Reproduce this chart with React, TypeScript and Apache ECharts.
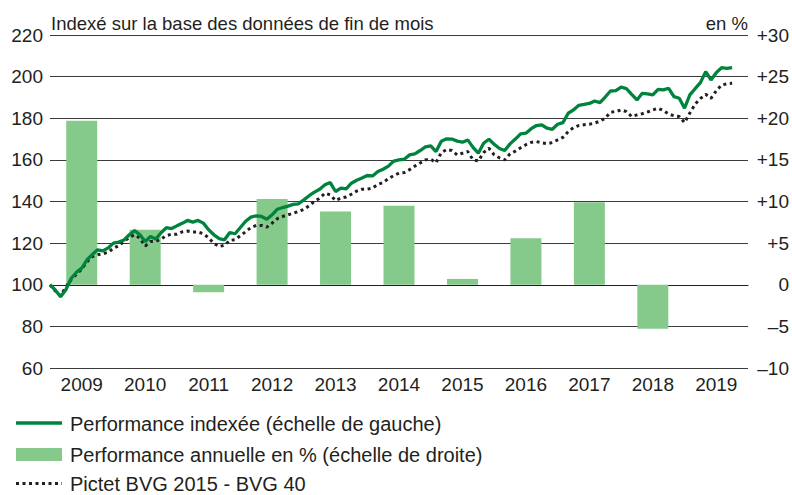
import React, { useEffect, useRef } from "react";
import * as echarts from "echarts";

const years = ["2009", "2010", "2011", "2012", "2013", "2014", "2015", "2016", "2017", "2018", "2019"];
const annualPerf: (number | null)[] = [19.7, 6.6, -0.9, 10.3, 8.8, 9.5, 0.7, 5.6, 9.9, -5.3, null];

// month-end values, starting with end of December 2008 (=100)
const indexed = [
  100, 97.5, 94.2, 97.6, 103, 106, 108, 112, 114.5, 116.8, 116.3, 117.7,
  120, 120.5, 121.5, 124, 126, 124, 120.8, 123.2, 122, 125, 127.4, 127,
  128.3, 129.5, 130.9, 130.1, 130.9, 129.6, 126.4, 124, 122.2, 121.6, 125.1, 124.5,
  127.5, 130.5, 132.5, 133.1, 132.8, 131.5, 133.6, 136.3, 137.1, 137.8, 138.6, 138.9,
  140.8, 142.8, 144.5, 145.9, 148, 149.1, 144.8, 146.4, 146.1, 148.8, 150.2, 151.3,
  152.5, 152.3, 154.4, 155.5, 157, 159.4, 160, 160.3, 162.4, 162.9, 164.5, 166.2,
  166.7, 164, 169, 170.1, 170, 169, 168.5, 169.6, 166, 163.2, 168, 169.9,
  167.5, 165.5, 164.5, 167.7, 170, 172.5, 172.8, 175, 176.5, 176.8, 175.2, 174.7,
  177.1, 177.9, 182.4, 184, 186.2, 186.7, 187.1, 188.3, 187.5, 190.2, 193.1, 193.3,
  195, 194.2, 191.5, 188.8, 192, 191.7, 191.2, 193.9, 193.6, 194.4, 190.4, 189.6,
  184.8, 191.2, 194.2, 197.1, 202.4, 198.4, 201.9, 204.3, 204, 204.3,
];

const pictet = [
  100, 97, 94.7, 99, 102.5, 105, 107.5, 111, 113.5, 114.4, 114.9, 115.6,
  117.5, 118.8, 120.8, 122.8, 124, 122.4, 118.6, 120.8, 120.8, 122, 123.6, 124.3,
  124.3, 125.4, 125.8, 125.3, 125.3, 124.5, 122.5, 119.8, 118.4, 119, 121.3, 121.7,
  123.5, 125.5, 127.5, 128.5, 128.5, 127.7, 129.6, 131.8, 132.8, 133.6, 134.4, 135.2,
  136.2, 138, 140, 141.6, 144, 143.2, 140.5, 141.6, 142.2, 143.5, 145, 145.9,
  145.9, 146.5, 148.2, 149.1, 151, 152.4, 153.6, 153.9, 155.3, 157, 158.5, 160,
  160.3, 158.6, 163.5, 165, 164.5, 162.4, 163.2, 164, 160, 159.5, 163.5, 165.6,
  162.4, 161, 160, 162.9, 164.2, 165.8, 167.3, 168.4, 168.8, 168.2, 167.8, 168.3,
  169.6, 170.8, 173.6, 175.5, 176.5, 176.9, 177.1, 177.7, 178.6, 180, 182.9, 183.2,
  184, 183.2, 180.8, 181.6, 182.2, 183, 184, 184.8, 183.7, 182, 181.2, 180.8,
  177.9, 182.5, 186.8, 189.5, 191.5, 189.6, 193.2, 196, 196.5, 196.8,
];

const leftTicks = { min: 60, max: 220, interval: 20 };
const rightTicks = { min: -10, max: 30, interval: 5 };
const monthsTotal = years.length * 12;

const legendNames = [
  "Performance indexée (échelle de gauche)",
  "Performance annuelle en % (échelle de droite)",
  "Pictet BVG 2015 - BVG 40",
];
const titleText = "Indexé sur la base des données de fin de mois";
const unitText = "en %";

const FONT = "'Liberation Sans', Arial, sans-serif";
const TEXT = "#231f20";
const GREEN = "#00843d";
const BAR = "#85c98b";
const DOT = "#231f20";
const DOT_DASH = [3, 3.5];

export default function App() {
  const ref = useRef<HTMLDivElement>(null);

  useEffect(() => {
    document.body.style.margin = "0";
    const chart = echarts.init(ref.current!, undefined, { renderer: "svg" });
    const legendY = [423, 454.5, 483.5];
    chart.setOption({
      animation: false,
      textStyle: { fontFamily: FONT, color: TEXT },
      grid: { left: 50, right: 42, top: 35, bottom: 127, containLabel: false },
      xAxis: [
        {
          type: "category",
          data: years,
          boundaryGap: true,
          axisLine: { show: true, lineStyle: { color: "#231f20", width: 1 } },
          axisTick: { show: false },
          axisLabel: { fontSize: 19, color: TEXT, margin: 7, fontFamily: FONT },
        },
        { type: "value", min: 0, max: monthsTotal, show: false },
      ],
      yAxis: [
        {
          type: "value",
          position: "left",
          ...leftTicks,
          axisLine: { show: false },
          axisTick: { show: false },
          axisLabel: { fontSize: 19, color: TEXT, margin: 7, fontFamily: FONT },
          splitLine: { show: true, lineStyle: { color: "#3c3c3c", width: 1 } },
        },
        {
          type: "value",
          position: "right",
          ...rightTicks,
          axisLine: { show: false },
          axisTick: { show: false },
          splitLine: { show: false },
          axisLabel: {
            fontSize: 19,
            color: TEXT,
            align: "right",
            margin: 41,
            fontFamily: FONT,
            formatter: (v: number) => (v > 0 ? "+" + v : v < 0 ? "\u2013" + Math.abs(v) : "0"),
          },
        },
      ],
      graphic: [
        {
          type: "text",
          x: 51,
          y: 23,
          style: { text: titleText, fill: TEXT, font: `18.5px ${FONT}`, textVerticalAlign: "middle" },
        },
        {
          type: "text",
          x: 748,
          y: 23,
          style: { text: unitText, fill: TEXT, font: `18.5px ${FONT}`, textAlign: "right", textVerticalAlign: "middle" },
        },
        {
          type: "line",
          shape: { x1: 16, y1: legendY[0], x2: 62, y2: legendY[0] },
          style: { stroke: GREEN, lineWidth: 3.3 },
        },
        {
          type: "rect",
          shape: { x: 16, y: legendY[1] - 6.5, width: 46, height: 13 },
          style: { fill: BAR },
        },
        {
          type: "line",
          shape: { x1: 16, y1: legendY[2], x2: 62, y2: legendY[2] },
          style: { stroke: DOT, lineWidth: 3, lineDash: DOT_DASH },
        },
        ...legendNames.map((name, i) => ({
          type: "text",
          x: 70,
          y: legendY[i] + 0.5,
          style: { text: name, fill: TEXT, font: `20px ${FONT}`, textVerticalAlign: "middle" },
        })),
      ],
      series: [
        {
          name: legendNames[1],
          type: "bar",
          xAxisIndex: 0,
          yAxisIndex: 1,
          data: annualPerf,
          barWidth: 31,
          itemStyle: { color: BAR },
          z: 1,
        },
        {
          name: legendNames[2],
          type: "line",
          xAxisIndex: 1,
          yAxisIndex: 0,
          data: pictet.map((v, i) => [i, v]),
          symbol: "none",
          lineStyle: { color: DOT, width: 3, type: DOT_DASH, cap: "butt" },
          itemStyle: { color: DOT },
          z: 3,
        },
        {
          name: legendNames[0],
          type: "line",
          xAxisIndex: 1,
          yAxisIndex: 0,
          data: indexed.map((v, i) => [i, v]),
          symbol: "none",
          lineStyle: { color: GREEN, width: 3.3 },
          itemStyle: { color: GREEN },
          z: 4,
        },
      ],
    });
    return () => chart.dispose();
  }, []);

  return <div ref={ref} style={{ position: "absolute", left: 0, top: 0, width: 792, height: 495 }} />;
}
